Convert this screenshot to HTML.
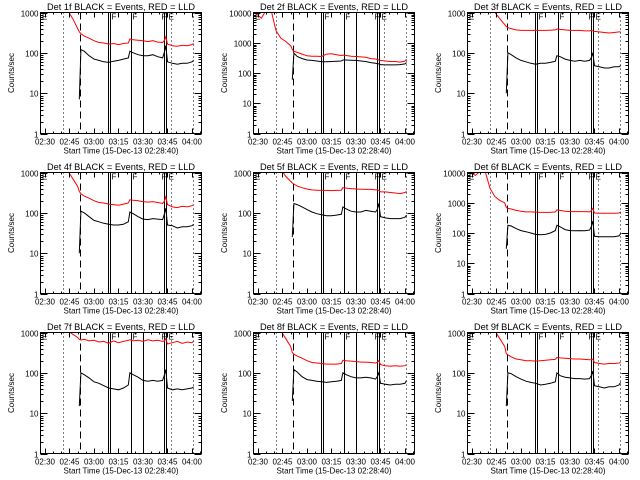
<!DOCTYPE html>
<html><head><meta charset="utf-8"><style>
html,body{margin:0;padding:0;background:#fff;}
svg{display:block;font-family:"Liberation Sans",sans-serif;}
</style></head><body>
<svg id="chart" width="640" height="480" viewBox="0 0 640 480" xmlns="http://www.w3.org/2000/svg">
<rect width="640" height="480" fill="#fff"/>
</svg>
<script>
// shared time grid, minutes after 02:30
const times = [-1,2,5,8,11,14,17,20,21,22,24,27,30,33,36,39,42,45,48,51,52,54,57,60,63,66,69,72,73,74,75,78,81,84,87,90,91];
const tickLabels = ["02:30","02:45","03:00","03:15","03:30","03:45","04:00"];
const tickTimes = [0,15,30,45,60,75,90];
const detNames = ["1f","2f","3f","4f","5f","6f","7f","8f","9f"];
const decades = [3,4,3,3,3,4,3,3,3];
const n = null;
const red1 = [n,n,n,n,n,1100,700,400,330,300,260,230,200,180,175,165,170,160,170,175,220,210,205,200,190,200,185,180,200,250,165,150,145,155,150,160,170];
const blk1 = [n,n,n,n,n,n,n,n,7,120,110,85,70,65,60,58,62,65,70,75,110,100,90,85,85,90,80,75,100,150,60,55,52,55,55,60,65];
const red2 = [9000,6500,12000,12000,2500,1400,1100,800,600,520,480,420,370,360,360,350,420,430,400,380,390,380,360,350,340,330,300,290,280,270,260,250,240,240,230,250,290];
const blk2 = [n,n,n,n,n,n,n,n,60,450,350,300,270,260,250,235,235,240,245,250,270,270,265,260,250,240,220,210,205,200,190,185,185,185,190,200,220];
const red3 = [n,n,n,n,n,1000,700,500,450,420,400,370,360,360,360,360,360,360,365,370,390,380,370,360,360,360,350,350,360,350,340,330,320,310,320,330,330];
const blk3 = [n,n,n,n,n,n,n,n,10,100,90,75,65,60,55,52,55,55,58,62,85,80,70,65,62,65,62,65,75,100,48,45,42,42,45,45,48];
const red4 = [n,n,n,n,n,1100,700,450,340,300,260,230,200,180,175,165,160,155,165,175,210,205,200,190,185,190,180,170,190,250,160,140,135,145,140,150,160];
const blk4 = [n,n,n,n,n,n,n,n,10,110,100,80,65,60,55,52,50,50,52,60,105,95,80,70,68,72,70,68,90,130,50,48,42,45,45,48,52];
const red5 = [n,n,n,n,n,1200,800,600,550,520,460,420,390,370,365,360,360,355,360,365,420,410,400,390,385,380,380,370,370,360,330,330,320,310,300,320,340];
const blk5 = [n,n,n,n,n,n,n,n,25,170,160,140,120,105,95,90,85,85,88,92,140,125,110,105,105,115,110,105,120,170,80,75,72,72,72,78,88];
const red6 = [10000,8000,11000,11000,3000,1600,1200,1000,700,650,620,560,520,500,500,490,480,480,480,500,580,560,520,510,510,510,510,500,550,650,460,450,450,450,450,460,500];
const blk6 = [n,n,n,n,n,n,n,n,30,180,170,140,120,110,100,90,88,90,100,120,180,160,130,120,118,120,118,125,160,250,78,75,75,75,75,80,95];
const red7 = [n,n,n,n,n,1100,900,750,680,650,680,620,640,580,600,540,620,560,600,640,660,620,640,600,660,620,640,600,620,700,520,560,600,540,580,560,600];
const blk7 = [n,n,n,n,n,n,n,n,15,100,90,75,60,55,48,42,40,38,42,50,100,90,78,65,62,65,62,65,85,120,42,38,40,38,40,42,45];
const red8 = [n,n,n,n,n,1100,700,450,320,290,260,230,200,180,175,170,165,165,165,170,205,200,195,190,185,185,180,175,180,200,160,150,145,150,145,150,160];
const blk8 = [n,n,n,n,n,n,n,n,20,120,105,80,68,65,62,60,58,60,62,65,100,90,80,75,75,78,75,70,80,100,55,52,50,52,52,55,65];
const red9 = [n,n,n,n,n,1100,700,450,300,280,250,220,210,200,200,195,200,205,210,215,240,235,230,225,220,220,215,210,210,220,180,170,165,170,170,175,180];
const blk9 = [n,n,n,n,n,n,n,n,15,100,95,80,70,62,58,55,50,52,55,60,100,85,78,75,72,72,70,72,85,110,48,45,42,45,45,50,58];
const redSeries = [red1,red2,red3,red4,red5,red6,red7,red8,red9];
const blkSeries = [blk1,blk2,blk3,blk4,blk5,blk6,blk7,blk8,blk9];
const dottedTimes = [11,77,90.7];
const dashedTimes = [21.4];
const solidTimes = [38.4,40.0,52.7,60,72.7,74.3];

const NS="http://www.w3.org/2000/svg";
const svg=document.getElementById('chart');
function mk(tag,attrs,parent){const e=document.createElementNS(NS,tag);for(const k in attrs)e.setAttribute(k,attrs[k]);(parent||svg).appendChild(e);return e;}
const colX=[0,213,427], rowY=[0,160,320];
for(let p=0;p<9;p++){
  const ox=colX[p%3], oy=rowY[Math.floor(p/3)];
  const L=ox+40.5,R=ox+201.5,T=oy+12.5,B=oy+133.5;
  const dec=decades[p];
  const X=t=>ox+45+t*1.633;
  const XR=t=>Math.round(X(t))+0.5;
  const Y=v=>B-Math.log10(v)*(B-T)/dec;
  const g=mk('g',{});
  
  
  const cp=mk('clipPath',{id:'cp'+p},g);
  mk('rect',{x:L,y:T,width:R-L,height:B-T},cp);
  const title=mk('text',{x:ox+121,y:oy+10,'text-anchor':'middle','font-size':'9.5',textLength:'148',lengthAdjust:'spacingAndGlyphs'},g);
  title.textContent='Det '+detNames[p]+' BLACK = Events, RED = LLD';
  
  
  // markers
  const mg=mk('g',{'clip-path':'url(#cp'+p+')',stroke:'#000','stroke-width':'1','shape-rendering':'crispEdges'},g);
  
  
  dottedTimes.forEach(t=>mk('line',{x1:XR(t),x2:XR(t),y1:T,y2:B,'stroke-dasharray':'1 3'},mg));
  dashedTimes.forEach(t=>mk('line',{x1:XR(t),x2:XR(t),y1:T,y2:B,'stroke-dasharray':'7 4'},mg));
  solidTimes.forEach(t=>mk('line',{x1:XR(t),x2:XR(t),y1:T-3,y2:B},mg));
  [[ox+42,'E'],[XR(40)+1,'F'],[XR(52.7)+1,'F'],[XR(74.3)-5,'F'],[XR(74.3)+2,'E']].forEach(([x,s])=>{
    const tx=mk('text',{x:x,y:T+7,'font-size':'8',stroke:'none',fill:'#000'},g);tx.textContent=s;
    
    
  });
  // series
  const mkLine=(arr,col,name)=>{
    let d='',pen=false;
    arr.forEach((v,i)=>{if(v==null){pen=false;return;}d+=(pen?'L':'M')+X(times[i]).toFixed(1)+' '+Y(v).toFixed(1)+' ';pen=true;});
    const pl=mk('path',{d:d,fill:'none',stroke:col,'stroke-width':'1','clip-path':'url(#cp'+p+')'},g);
    
    
  };
  mkLine(redSeries[p],'#ff0000','lld-rate-line');
  mkLine(blkSeries[p],'#000000','events-rate-line');
  // frame
  const fr=mk('rect',{x:L,y:T,width:R-L,height:B-T,fill:'none',stroke:'#000','stroke-width':'1','shape-rendering':'crispEdges'},g);
  
  
  // y ticks
  for(let k=0;k<=dec;k++){
    const y=Math.round(B-k*(B-T)/dec)+0.5;
    mk('line',{x1:L,x2:L+7,y1:y,y2:y,stroke:'#000','shape-rendering':'crispEdges'},g);
    mk('line',{x1:R,x2:R-7,y1:y,y2:y,stroke:'#000','shape-rendering':'crispEdges'},g);
    const tl=mk('text',{x:L-2,y:y+3,'text-anchor':'end','font-size':'8'},g);
    tl.textContent=String(Math.pow(10,k));
    
    
    if(k<dec)for(let m=2;m<10;m++){const yy=Math.round(y-Math.log10(m)*(B-T)/dec)+0.5;
      mk('line',{x1:L,x2:L+3,y1:yy,y2:yy,stroke:'#000','shape-rendering':'crispEdges'},g);mk('line',{x1:R,x2:R-3,y1:yy,y2:yy,stroke:'#000','shape-rendering':'crispEdges'},g);}
  }
  // x ticks
  for(let t=0;t<=95;t+=5){const x=XR(t);if(x>R)break;const maj=t%15===0;
    mk('line',{x1:x,x2:x,y1:B,y2:B-(maj?5:2),stroke:'#000','shape-rendering':'crispEdges'},g);mk('line',{x1:x,x2:x,y1:T,y2:T+(maj?5:2),stroke:'#000','shape-rendering':'crispEdges'},g);}
  tickTimes.forEach((t,i)=>{const tl=mk('text',{x:X(t),y:B+11,'text-anchor':'middle','font-size':'8'},g);tl.textContent=tickLabels[i];
    
    });
  const xt=mk('text',{x:ox+121,y:B+20,'text-anchor':'middle','font-size':'8.5',textLength:'115',lengthAdjust:'spacingAndGlyphs'},g);
  xt.textContent='Start Time (15-Dec-13 02:28:40)';
  
  
  const yt=mk('text',{x:0,y:0,'text-anchor':'middle','font-size':'8',transform:'translate('+(ox+14)+','+(oy+73)+') rotate(-90)'},g);
  yt.textContent='Counts/sec';
  
  
}
</script>
</body></html>
